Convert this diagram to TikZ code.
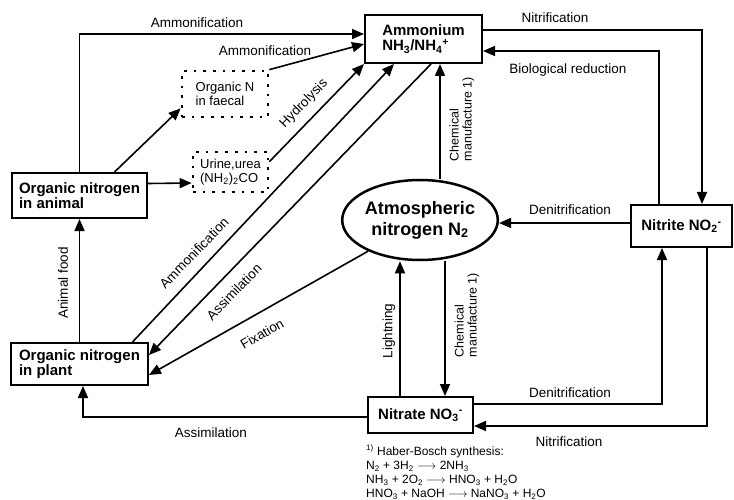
\documentclass[tikz,border=0pt]{standalone}
\usepackage{fontspec}
\setmainfont{Liberation Sans}
\usetikzlibrary{
    arrows.meta,
    shapes.geometric,
    positioning
}
\tikzset{nbox/.style={rectangle, draw=black, line width=2pt, inner sep=0pt, align=left, font=\fontsize{15}{15.5}\selectfont\bfseries}}
\tikzset{ndot/.style={rectangle, draw=black, line width=2.7pt, dash pattern=on 2.7pt off 7pt, inner sep=0pt, align=left, font=\fontsize{13}{14.5}\selectfont}}
\tikzset{lbl/.style={inner sep=1pt, font=\fontsize{13.5}{15}\selectfont}}
\tikzset{arr/.style={line width=1.6pt, -{Triangle[length=12pt, width=10pt]}}}

\begin{document}
\begin{tikzpicture}[x=1pt, y=-1pt]
\useasboundingbox (0,0) rectangle (734,500);
% boxes
\node[nbox, minimum width=117pt, minimum height=48pt] (ammon) at (423.5,39) {Ammonium\\NH\textsubscript{3}/NH\textsubscript{4}\textsuperscript{+}};
\node[nbox, minimum width=135pt, minimum height=45pt] (animal) at (79.5,195.5) {Organic nitrogen\\in animal};
\node[nbox, minimum width=137pt, minimum height=42pt] (plant) at (79.5,364) {Organic nitrogen\\in plant};
\node[ndot, minimum width=86pt, minimum height=46pt] (faecal) at (225,94) {Organic N\\in faecal};
\node[ndot, minimum width=75pt, minimum height=40pt] (urine) at (230.5,172) {Urine,urea\\(NH\textsubscript{2})\textsubscript{2}CO};
\node[ellipse, draw=black, line width=2.5pt, minimum width=150pt, minimum height=80pt, inner sep=0pt, align=center, font=\fontsize{18}{21}\selectfont\bfseries] (atmo) at (420,220) {Atmospheric\\nitrogen N\textsubscript{2}};
\node[nbox, minimum width=101pt, minimum height=42pt, align=center] (nitrite) at (681.5,226) {Nitrite NO\textsubscript{2}\textsuperscript{-}};
\node[nbox, minimum width=105pt, minimum height=36pt, align=center] (nitrate) at (420.5,415) {Nitrate NO\textsubscript{3}\textsuperscript{-}};

% connectors
\draw[arr] (animal.north) |- ([yshift=5pt]ammon.west);
\draw[arr] (faecal.north east) -- ([yshift=-5pt]ammon.west);
\draw[arr] ([xshift=35pt]animal.north) -- ([yshift=10pt]faecal.south west);
\draw[arr] ([yshift=12pt]animal.east) -- ([yshift=-11pt]urine.west);
\draw[arr] ([yshift=-11pt]urine.north east) -- (ammon.south west);
\draw[arr] ([xshift=53pt]plant.north) -- ([xshift=30pt]ammon.south west);
\draw[arr] ([xshift=67pt]ammon.south west) -- ([yshift=9pt]plant.east);
\draw[arr] (atmo.211) -- ([yshift=-11pt]plant.east);
\draw[arr] ([xshift=20pt]atmo.north) -- ([xshift=16.5pt]ammon.south);
\draw[arr] ([yshift=9pt]ammon.east) -| ([xshift=20.5pt]nitrite.north);
\draw[arr] ([xshift=-22.5pt]nitrite.north) |- ([yshift=-12pt]ammon.east);
\draw[arr] ([yshift=3pt]nitrite.west) -- ([yshift=-3pt]atmo.east);
\draw[arr] ([xshift=-20.5pt]nitrate.north) -- ([xshift=-20pt]atmo.south);
\draw[arr] ([xshift=25pt]atmo.south) -- ([xshift=24.5pt]nitrate.north);
\draw[arr] ([yshift=11pt]nitrate.east) -| ([xshift=-19.5pt]nitrite.south);
\draw[arr] ([xshift=25.5pt]nitrite.south) |- ([yshift=-11pt]nitrate.east);
\draw[arr] ([yshift=-2pt]nitrate.west) -| ([xshift=3.5pt]plant.south);
\draw[arr] (plant.north) -- (animal.south);

% labels
\node[lbl] (lamma) at (197,23) {Ammonification};
\node[lbl] (lammb) at (265,51) {Ammonification};
\node[lbl, rotate=46] (lhyd) at (304,104) {Hydrolysis};
\node[lbl, rotate=46] (lammc) at (194,253) {Ammonification};
\node[lbl, rotate=46] (lassa) at (234,292) {Assimilation};
\node[lbl, rotate=30] (lfix) at (262,334) {Fixation};
\node[lbl, rotate=90, align=left, font=\fontsize{12.5}{13}\selectfont] (lchema) at (462,119) {Chemical\\manufacture 1)};
\node[lbl, rotate=90, align=left, font=\fontsize{12.5}{13}\selectfont] (lchemb) at (467,315) {Chemical\\manufacture 1)};
\node[lbl, rotate=90] (llight) at (389,331) {Lightning};
\node[lbl, rotate=90] (lfood) at (63,283) {Animal food};
\node[lbl] (lnitra) at (555,18) {Nitrification};
\node[lbl] (lbio) at (568,70) {Biological reduction};
\node[lbl] (ldena) at (570,210) {Denitrification};
\node[lbl] (ldenb) at (570,393) {Denitrification};
\node[lbl] (lnitrb) at (569,442) {Nitrification};
\node[lbl] (lassb) at (211,433) {Assimilation};
\node[lbl, anchor=north west, align=left, inner sep=0pt, font=\fontsize{12}{14}\selectfont] (note) at (366,445) {\textsuperscript{1)} Haber-Bosch synthesis:\\N\textsubscript{2} + 3H\textsubscript{2} $\longrightarrow$ 2NH\textsubscript{3}\\NH\textsubscript{3} + 2O\textsubscript{2} $\longrightarrow$ HNO\textsubscript{3} + H\textsubscript{2}O\\HNO\textsubscript{3} + NaOH $\longrightarrow$ NaNO\textsubscript{3} + H\textsubscript{2}O};
\end{tikzpicture}
\end{document}
